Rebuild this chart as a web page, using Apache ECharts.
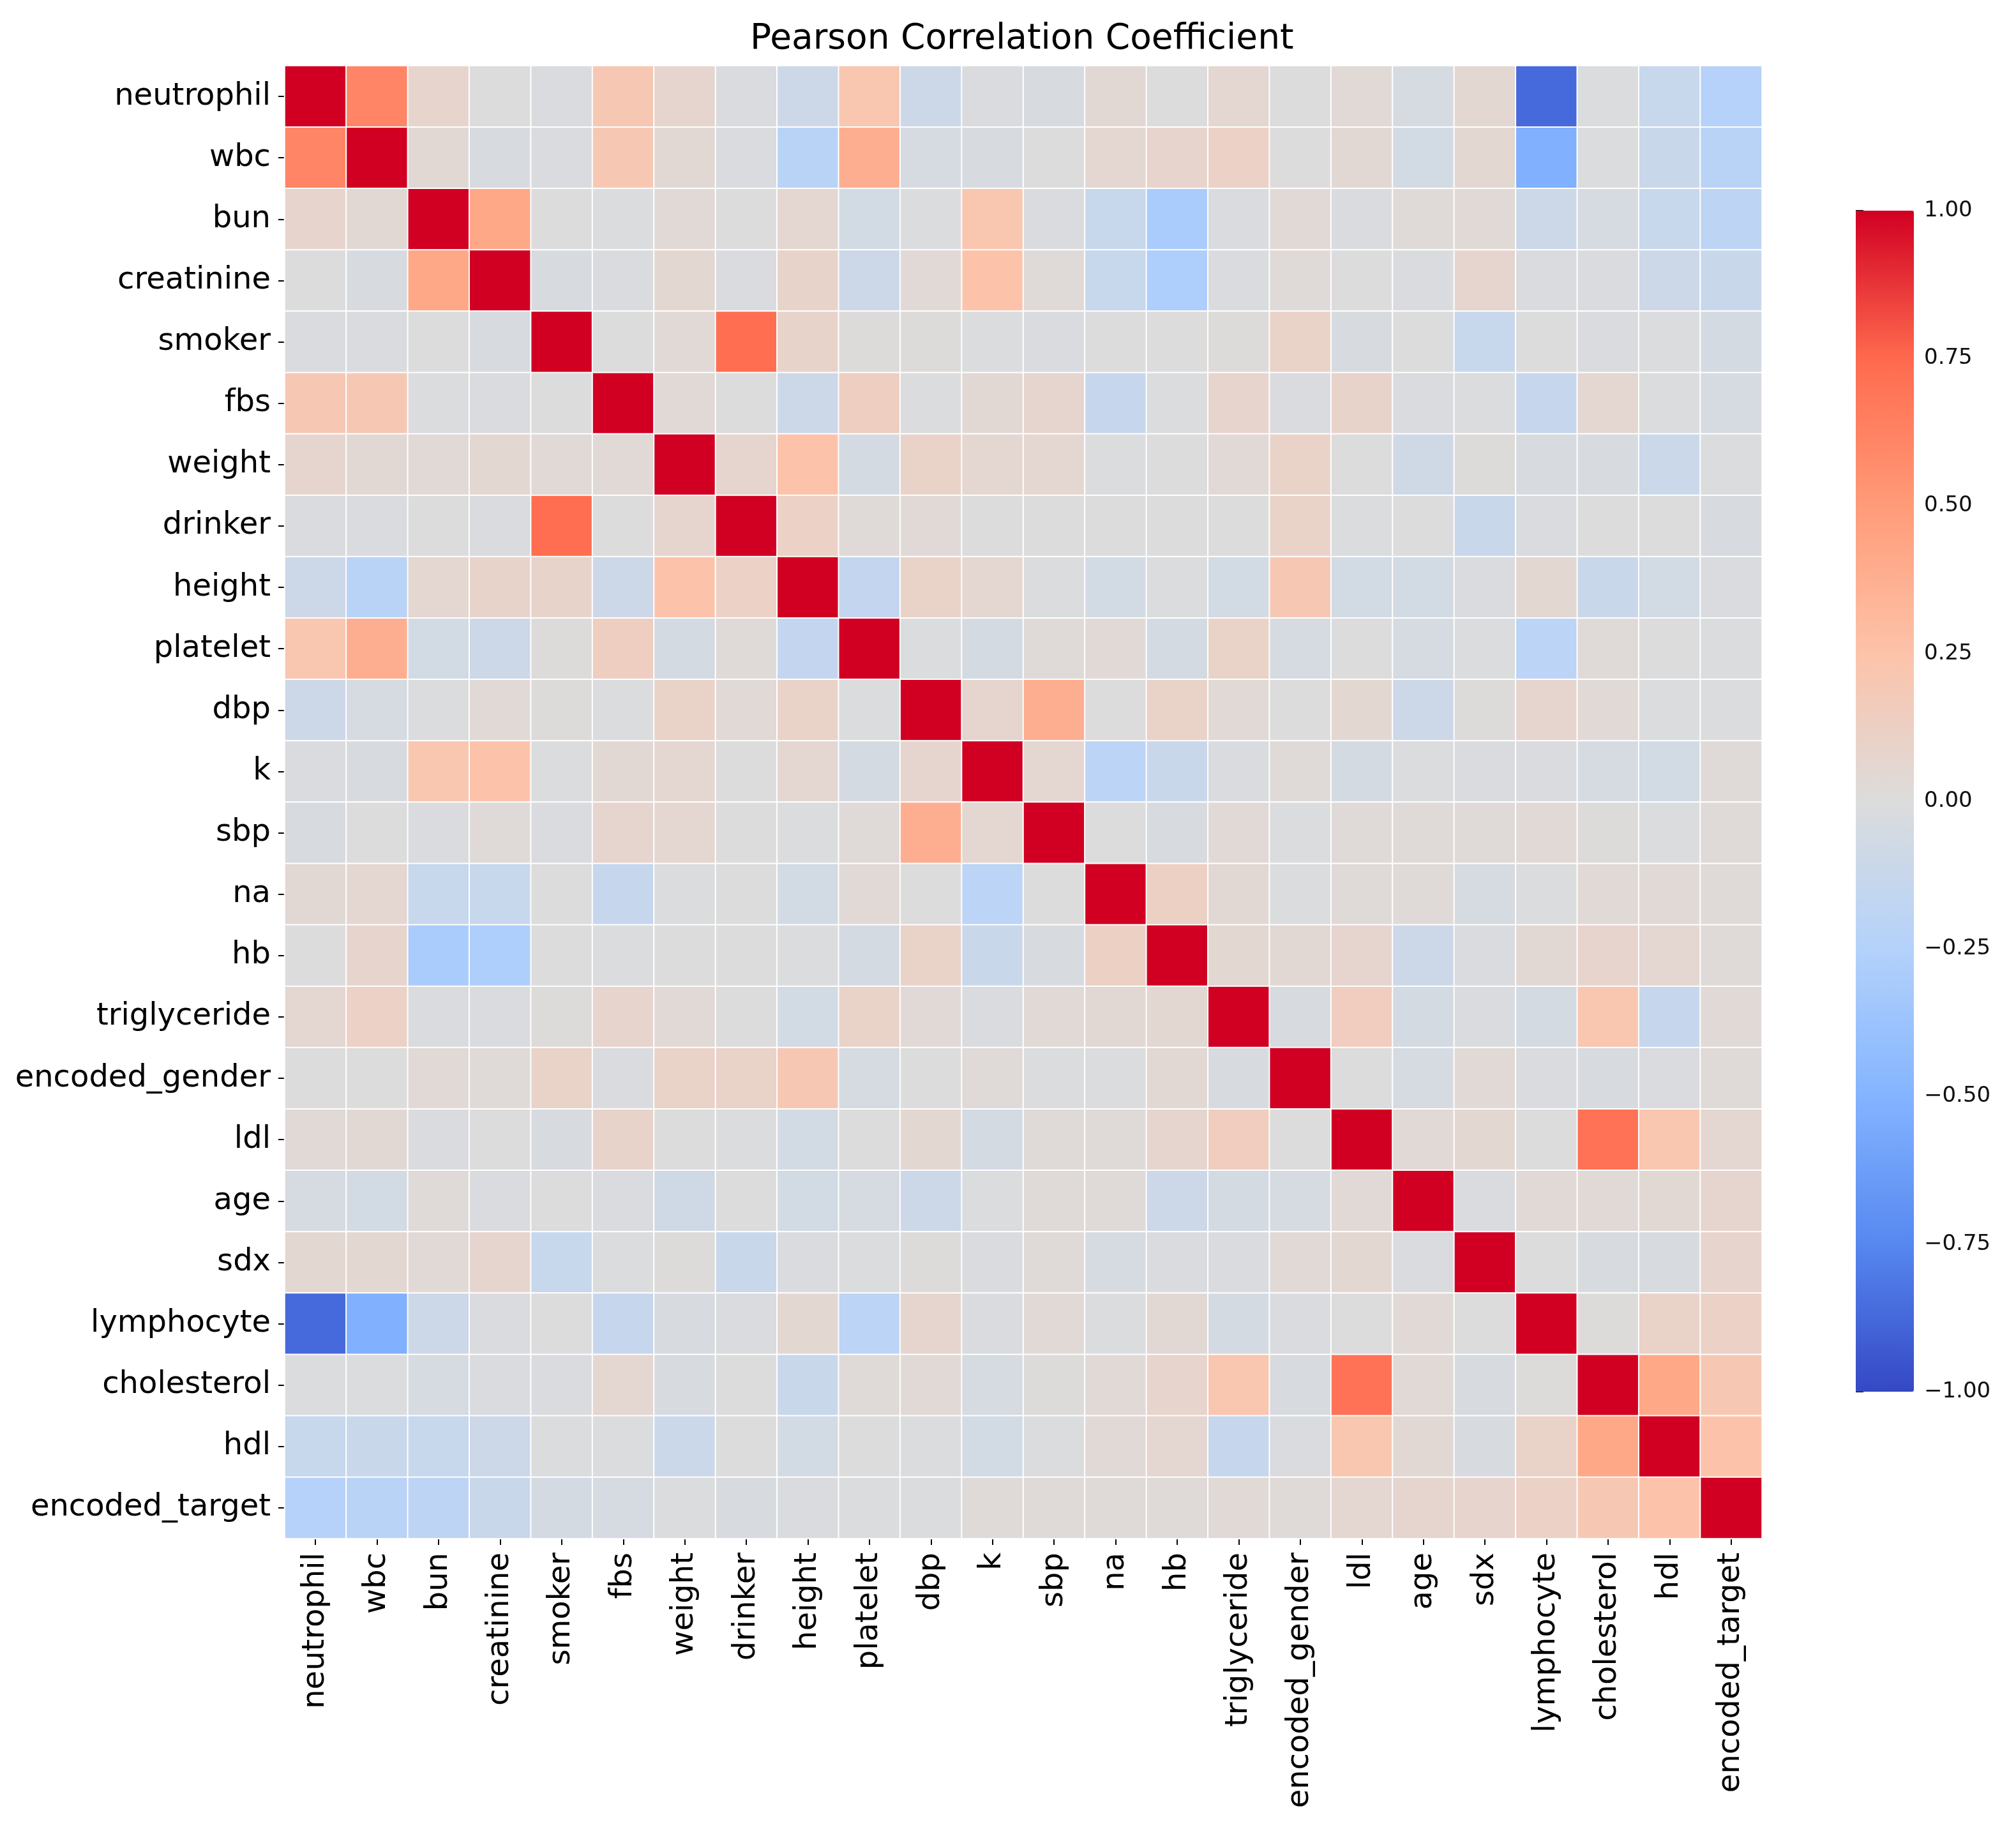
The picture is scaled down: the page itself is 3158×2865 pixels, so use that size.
<!DOCTYPE html>
<html>
<head>
<meta charset="utf-8">
<script src="https://cdn.jsdelivr.net/npm/echarts@6/dist/echarts.min.js"></script>
<style>
  html, body { margin: 0; padding: 0; background: #fff; }
  #chart { width: 3158px; height: 2865px; }
</style>
</head>
<body>
<div id="chart"></div>
<script>
var labels = ['neutrophil', 'wbc', 'bun', 'creatinine', 'smoker', 'fbs', 'weight', 'drinker',
  'height', 'platelet', 'dbp', 'k', 'sbp', 'na', 'hb', 'triglyceride', 'encoded_gender',
  'ldl', 'age', 'sdx', 'lymphocyte', 'cholesterol', 'hdl', 'encoded_target'];

// correlation matrix, one row per label (same order)
var corr = [
  [1, 0.61, 0.08, 0.00, -0.02, 0.20, 0.07, -0.02, -0.10, 0.22, -0.10, -0.02, -0.03, 0.04, 0.00, 0.06, 0.00, 0.03, -0.04, 0.05, -0.87, -0.01, -0.13, -0.24],
  [0.61, 1, 0.04, -0.03, -0.02, 0.20, 0.04, -0.02, -0.22, 0.38, -0.04, -0.03, 0.00, 0.06, 0.08, 0.11, 0.00, 0.04, -0.06, 0.05, -0.52, -0.01, -0.12, -0.22],
  [0.08, 0.04, 1, 0.42, 0.00, -0.01, 0.03, 0.00, 0.06, -0.06, -0.01, 0.22, -0.02, -0.13, -0.30, -0.02, 0.03, -0.02, 0.02, 0.03, -0.10, -0.04, -0.13, -0.19],
  [0.00, -0.03, 0.42, 1, -0.03, -0.02, 0.05, -0.02, 0.09, -0.10, 0.03, 0.25, 0.02, -0.13, -0.28, -0.02, 0.02, 0.00, -0.02, 0.07, -0.02, -0.02, -0.10, -0.12],
  [-0.02, -0.02, 0.00, -0.03, 1, 0.00, 0.03, 0.73, 0.09, 0.01, 0.01, -0.01, -0.02, 0.00, 0.00, 0.01, 0.10, -0.03, 0.00, -0.13, 0.00, -0.02, -0.01, -0.05],
  [0.20, 0.20, -0.01, -0.02, 0.00, 1, 0.03, 0.00, -0.10, 0.14, -0.01, 0.04, 0.07, -0.14, -0.01, 0.08, -0.02, 0.09, -0.02, -0.01, -0.14, 0.06, -0.01, -0.04],
  [0.07, 0.04, 0.03, 0.05, 0.03, 0.03, 1, 0.07, 0.25, -0.05, 0.10, 0.06, 0.06, -0.01, 0.00, 0.03, 0.10, 0.00, -0.08, 0.01, -0.03, -0.03, -0.11, -0.01],
  [-0.02, -0.02, 0.00, -0.02, 0.73, 0.00, 0.07, 1, 0.11, 0.02, 0.03, 0.00, 0.00, 0.00, 0.00, 0.00, 0.10, -0.01, 0.00, -0.12, -0.02, 0.00, 0.00, -0.03],
  [-0.10, -0.22, 0.06, 0.09, 0.09, -0.10, 0.25, 0.11, 1, -0.15, 0.10, 0.06, -0.01, -0.06, -0.01, -0.06, 0.20, -0.06, -0.06, -0.02, 0.05, -0.12, -0.06, -0.02],
  [0.22, 0.38, -0.06, -0.10, 0.01, 0.14, -0.05, 0.02, -0.15, 1, -0.01, -0.05, 0.02, 0.03, -0.05, 0.10, -0.04, 0.00, -0.04, -0.01, -0.20, 0.02, 0.00, -0.01],
  [-0.10, -0.04, -0.01, 0.03, 0.01, -0.01, 0.10, 0.03, 0.10, -0.01, 1, 0.07, 0.38, 0.00, 0.10, 0.03, 0.00, 0.05, -0.10, 0.01, 0.07, 0.03, -0.01, -0.01],
  [-0.02, -0.03, 0.22, 0.25, -0.01, 0.04, 0.06, 0.00, 0.06, -0.05, 0.07, 1, 0.06, -0.20, -0.12, -0.02, 0.02, -0.05, -0.01, -0.02, -0.02, -0.04, -0.06, 0.02],
  [-0.03, 0.00, -0.02, 0.02, -0.02, 0.07, 0.06, 0.00, -0.01, 0.02, 0.38, 0.06, 1, 0.00, -0.03, 0.03, -0.01, 0.02, 0.02, 0.02, 0.03, 0.01, -0.01, 0.02],
  [0.04, 0.06, -0.13, -0.13, 0.00, -0.14, -0.01, 0.00, -0.06, 0.03, 0.00, -0.20, 0.00, 1, 0.12, 0.04, -0.01, 0.02, 0.02, -0.04, -0.01, 0.03, 0.03, 0.02],
  [0.00, 0.08, -0.30, -0.28, 0.00, -0.01, 0.00, 0.00, -0.01, -0.05, 0.10, -0.12, -0.03, 0.12, 1, 0.05, 0.04, 0.07, -0.10, -0.02, 0.04, 0.08, 0.06, 0.02],
  [0.06, 0.11, -0.02, -0.02, 0.01, 0.08, 0.03, 0.00, -0.06, 0.10, 0.03, -0.02, 0.03, 0.04, 0.05, 1, -0.03, 0.15, -0.05, -0.02, -0.05, 0.22, -0.14, 0.03],
  [0.00, 0.00, 0.03, 0.02, 0.10, -0.02, 0.10, 0.10, 0.20, -0.04, 0.00, 0.02, -0.01, -0.01, 0.04, -0.03, 1, 0.00, -0.04, 0.03, -0.02, -0.03, -0.02, 0.02],
  [0.03, 0.04, -0.02, 0.00, -0.03, 0.09, 0.00, -0.01, -0.06, 0.00, 0.05, -0.05, 0.02, 0.02, 0.07, 0.15, 0.00, 1, 0.03, 0.05, 0.00, 0.71, 0.22, 0.06],
  [-0.04, -0.06, 0.02, -0.02, 0.00, -0.02, -0.08, 0.00, -0.06, -0.04, -0.10, -0.01, 0.02, 0.02, -0.10, -0.05, -0.04, 0.03, 1, -0.02, 0.03, 0.03, 0.04, 0.07],
  [0.05, 0.05, 0.03, 0.07, -0.13, -0.01, 0.01, -0.12, -0.02, -0.01, 0.01, -0.02, 0.02, -0.04, -0.02, -0.02, 0.03, 0.05, -0.02, 1, 0.00, -0.03, -0.03, 0.08],
  [-0.87, -0.52, -0.10, -0.02, 0.00, -0.14, -0.03, -0.02, 0.05, -0.20, 0.07, -0.02, 0.03, -0.01, 0.04, -0.05, -0.02, 0.00, 0.03, 0.00, 1, 0.01, 0.10, 0.11],
  [-0.01, -0.01, -0.04, -0.02, -0.02, 0.06, -0.03, 0.00, -0.12, 0.02, 0.03, -0.04, 0.01, 0.03, 0.08, 0.22, -0.03, 0.71, 0.03, -0.03, 0.01, 1, 0.42, 0.20],
  [-0.13, -0.12, -0.13, -0.10, -0.01, -0.01, -0.11, 0.00, -0.06, 0.00, -0.01, -0.06, -0.01, 0.03, 0.06, -0.14, -0.02, 0.22, 0.04, -0.03, 0.10, 0.42, 1, 0.25],
  [-0.24, -0.22, -0.19, -0.12, -0.05, -0.04, -0.01, -0.03, -0.02, -0.01, -0.01, 0.02, 0.02, 0.02, 0.02, 0.03, 0.02, 0.06, 0.07, 0.08, 0.11, 0.20, 0.25, 1]
];

// colorbar range / ticks
var cbMin = -1, cbMax = 1, cbStep = 0.25;

var cells = [];
corr.forEach(function (row, i) {
  row.forEach(function (v, j) {
    cells.push([j, i, v]);
  });
});

var font = 'DejaVu Sans';
var chart = echarts.init(document.getElementById('chart'));

option = {
  backgroundColor: '#fff',
  animation: false,
  title: {
    text: 'Pearson Correlation Coefficient',
    left: 1175,
    top: 34,
    padding: 0,
    textStyle: { fontFamily: font, fontSize: 55, fontWeight: 'normal', color: '#000' }
  },
  grid: [
    { left: 446, top: 103, width: 2314, height: 2307 },
    { left: 2907, top: 330, width: 91, height: 1850 }
  ],
  xAxis: [
    {
      type: 'category',
      gridIndex: 0,
      data: labels,
      axisLine: { show: false },
      axisTick: { show: true, alignWithLabel: true, length: 10, lineStyle: { color: '#000', width: 2 } },
      axisLabel: { rotate: 90, fontFamily: font, fontSize: 48, color: '#000', margin: 22, interval: 0 },
      splitLine: { show: false }
    },
    { type: 'value', gridIndex: 1, show: false, min: 0, max: 1 }
  ],
  yAxis: [
    {
      type: 'category',
      gridIndex: 0,
      data: labels,
      inverse: true,
      axisLine: { show: false },
      axisTick: { show: true, alignWithLabel: true, length: 10, lineStyle: { color: '#000', width: 2 } },
      axisLabel: { fontFamily: font, fontSize: 48, color: '#000', margin: 22, interval: 0 },
      splitLine: { show: false }
    },
    {
      type: 'value',
      gridIndex: 1,
      position: 'right',
      min: cbMin,
      max: cbMax,
      interval: cbStep,
      axisLine: { show: false },
      axisTick: { show: true, length: 12, lineStyle: { color: '#000', width: 2 } },
      axisLabel: {
        fontFamily: font, fontSize: 34, color: '#111', margin: 16,
        formatter: function (v) { return v.toFixed(2).replace('-', '\u2212'); }
      },
      splitLine: { show: false }
    }
  ],
  visualMap: {
    type: 'continuous',
    seriesIndex: 0,
    min: cbMin,
    max: cbMax,
    calculable: false,
    orient: 'vertical',
    left: 2907,
    top: 330,
    padding: 0,
    itemWidth: 91,
    itemHeight: 1850,
    text: null,
    inRange: {
      color: ['#3548c4', '#5688f0', '#84b4ff', '#b4d2fb', '#dcdcdc',
              '#fdc3aa', '#ff9b78', '#ff6a4e', '#d10022']
    }
  },
  series: [
    {
      type: 'heatmap',
      xAxisIndex: 0,
      yAxisIndex: 0,
      data: cells,
      itemStyle: { borderColor: '#ffffff', borderWidth: 2 },
      emphasis: { disabled: true }
    },
    { type: 'scatter', xAxisIndex: 1, yAxisIndex: 1, data: [] }
  ]
};
chart.setOption(option);
</script>
</body>
</html>
